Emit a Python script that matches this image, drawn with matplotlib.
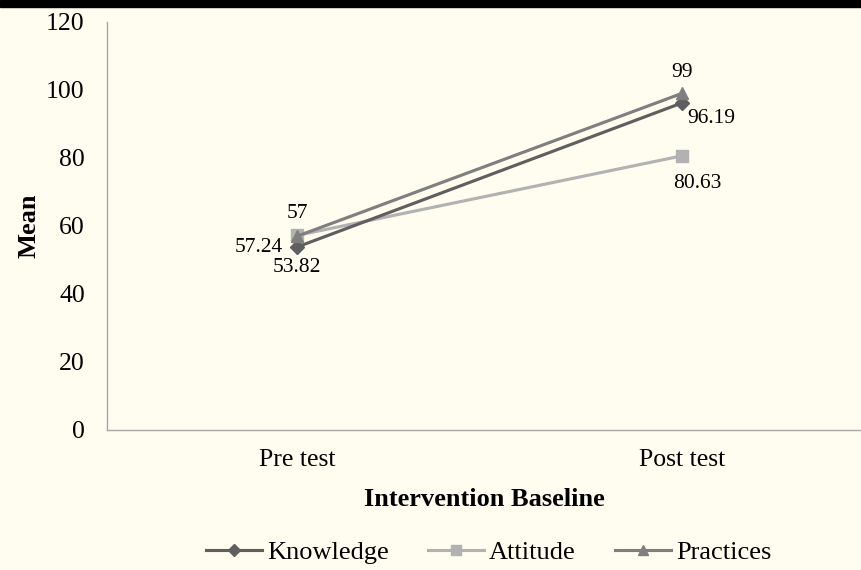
import matplotlib.pyplot as plt

categories = ['Pre test', 'Post test']
knowledge = [53.82, 96.19]
attitude = [57.24, 80.63]
practices = [57, 99]

plt.rcParams['font.family'] = ['Liberation Serif', 'DejaVu Serif']

bg = '#FFFDF0'
fig = plt.figure(figsize=(8.62, 5.70), dpi=100, facecolor=bg)
# black band at the top of the picture
fig.patches.append(plt.Rectangle((0, 1 - 7 / 570), 1, 7 / 570, transform=fig.transFigure,
                                 color='black', zorder=0))
ax = fig.add_axes([107 / 862, 1 - 430 / 570, 1 - 107 / 862, 408 / 570])
ax.set_facecolor(bg)

x = list(range(len(categories)))
ax.plot(x, knowledge, color='#5F5F5F', lw=2.25, marker='D', ms=7, label='Knowledge', zorder=3)
ax.plot(x, attitude, color='#B2B2B2', lw=2.25, marker='s', ms=9, label='Attitude', zorder=2)
ax.plot(x, practices, color='#7F7F7F', lw=2.25, marker='^', ms=9, label='Practices', zorder=4)

lab = dict(fontsize=15.5, color='black', va='center')
ax.annotate(f'{knowledge[0]:.2f}', (x[0], knowledge[0]), xytext=(0, -15), textcoords='offset points', ha='center', **lab)
ax.annotate(f'{knowledge[1]:.2f}', (x[1], knowledge[1]), xytext=(4, -11), textcoords='offset points', ha='left', **lab)
ax.annotate(f'{attitude[0]:.2f}', (x[0], attitude[0]), xytext=(-10, -9), textcoords='offset points', ha='right', **lab)
ax.annotate(f'{attitude[1]:.2f}', (x[1], attitude[1]), xytext=(11, -20), textcoords='offset points', ha='center', **lab)
ax.annotate(f'{practices[0]:g}', (x[0], practices[0]), xytext=(0, 16), textcoords='offset points', ha='center', **lab)
ax.annotate(f'{practices[1]:g}', (x[1], practices[1]), xytext=(0, 15), textcoords='offset points', ha='center', **lab)

ax.set_xlim(-0.494, 1.468)
ax.set_ylim(0, 120)
ax.set_yticks(range(0, 121, 20))
ax.set_xticks(x)
ax.set_xticklabels(categories)
ax.tick_params(length=0, labelsize=18.5)
ax.tick_params(axis='y', pad=16)
ax.tick_params(axis='x', pad=14)
for s in ['top', 'right']:
    ax.spines[s].set_visible(False)
for s in ['left', 'bottom']:
    ax.spines[s].set_color('#A6A6A6')
    ax.spines[s].set_linewidth(1)

ax.set_ylabel('Mean', fontsize=19, fontweight='bold', labelpad=4)
ax.set_xlabel('Intervention Baseline', fontsize=19, fontweight='bold', labelpad=12)

ax.legend(loc='center', bbox_to_anchor=(489 / 862, 1 - 552 / 570), bbox_transform=fig.transFigure,
          ncol=3, frameon=False, fontsize=19, handlelength=2.1, handletextpad=0.2,
          columnspacing=1.5, markerscale=0.85)

fig.savefig('out.png', dpi=100, facecolor=bg)
